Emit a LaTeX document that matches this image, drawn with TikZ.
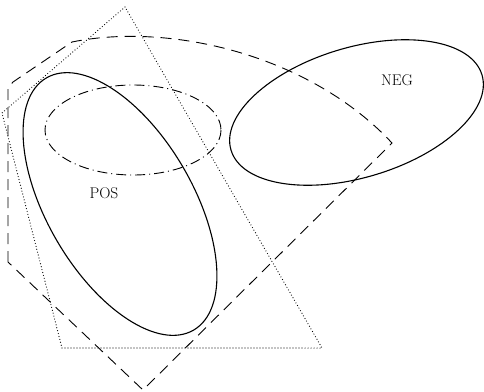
\documentclass[tikz,border=0pt]{standalone}
\usepackage{tikz}
\usetikzlibrary{calc}
\begin{document}
\begin{tikzpicture}[x=1pt,y=-1pt,
    setline/.style={black,line width=1.1pt},
    hulldash/.style={black,line width=0.9pt,dash pattern=on 11pt off 7pt},
    hulldot/.style={black,line width=1.2pt,line cap=round,dash pattern=on 0pt off 3pt},
    coredash/.style={black,line width=0.9pt,dash pattern=on 10pt off 4pt on 1pt off 4pt},
    setlabel/.style={font=\fontsize{15.5}{18}\selectfont}]
  \useasboundingbox (0,0) rectangle (484,391);

  % dotted region
  \draw[hulldot] (125,7) -- (2,113) -- (62,348) -- (322,348) -- cycle;

  % dashed region
  \draw[hulldash] (8,262) -- (8,88) -- (13,82) -- (72,42)
    .. controls (170,22) and (310,55) .. (392,143) -- (143,390) -- cycle;

  % dash-dot core
  \draw[coredash] (133,130) ellipse [x radius=88,y radius=45];

  % the two sets
  \draw[setline,shift={(120,204)},rotate=-59.7] (0,0) ellipse [x radius=146,y radius=73];
  \draw[setline,shift={(356.5,112.5)},rotate=16.7] (0,0) ellipse [x radius=131,y radius=65];

  \node[setlabel] (pos) at (104,193) {POS};
  \node[setlabel] (neg) at (397,80) {NEG};
\end{tikzpicture}
\end{document}
